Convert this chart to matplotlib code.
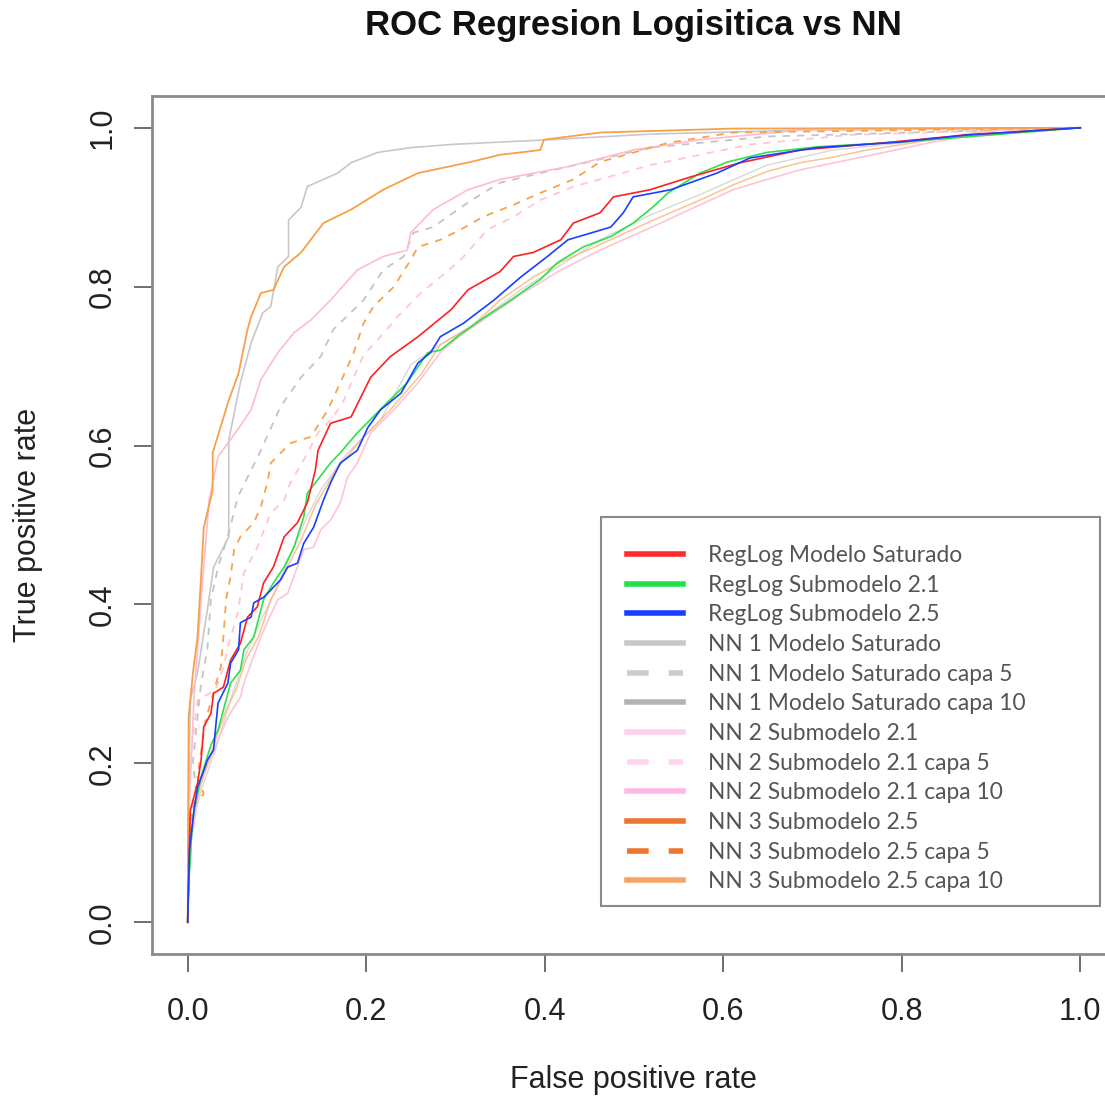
import matplotlib
matplotlib.use('Agg')
import matplotlib.pyplot as plt
from matplotlib.lines import Line2D
from matplotlib.patches import Rectangle

# ROC points (fpr, tpr)
red_x = [0, 0.002, 0.003, 0.011, 0.015, 0.018, 0.026, 0.029, 0.040, 0.048, 0.059, 0.067, 0.078, 0.085, 0.096, 0.108, 0.123, 0.134, 0.143, 0.146, 0.160, 0.183, 0.194, 0.205, 0.227, 0.258, 0.295, 0.314, 0.350, 0.365, 0.387, 0.418, 0.432, 0.462, 0.477, 0.518, 0.563, 0.619, 0.686, 0.779, 0.873, 1]
red_y = [0, 0.103, 0.141, 0.175, 0.204, 0.246, 0.263, 0.288, 0.296, 0.330, 0.351, 0.384, 0.397, 0.427, 0.447, 0.485, 0.503, 0.528, 0.569, 0.594, 0.628, 0.636, 0.661, 0.686, 0.712, 0.737, 0.771, 0.796, 0.819, 0.838, 0.843, 0.859, 0.880, 0.893, 0.913, 0.922, 0.938, 0.956, 0.972, 0.981, 0.991, 1]

green_x = [0, 0.001, 0.003, 0.004, 0.007, 0.011, 0.015, 0.026, 0.034, 0.040, 0.048, 0.059, 0.063, 0.074, 0.085, 0.096, 0.108, 0.119, 0.130, 0.134, 0.160, 0.171, 0.190, 0.219, 0.246, 0.258, 0.269, 0.283, 0.302, 0.328, 0.358, 0.395, 0.414, 0.443, 0.474, 0.499, 0.522, 0.538, 0.574, 0.605, 0.649, 0.705, 0.798, 1]
green_y = [0, 0.053, 0.078, 0.103, 0.141, 0.162, 0.183, 0.223, 0.242, 0.267, 0.301, 0.317, 0.343, 0.359, 0.406, 0.427, 0.447, 0.472, 0.510, 0.540, 0.578, 0.591, 0.616, 0.649, 0.679, 0.699, 0.717, 0.720, 0.737, 0.758, 0.780, 0.809, 0.830, 0.850, 0.863, 0.880, 0.901, 0.918, 0.943, 0.957, 0.969, 0.976, 0.982, 1]

blue_x = [0, 0.002, 0.007, 0.011, 0.018, 0.022, 0.029, 0.031, 0.034, 0.045, 0.048, 0.057, 0.059, 0.071, 0.074, 0.085, 0.093, 0.104, 0.112, 0.123, 0.130, 0.141, 0.152, 0.160, 0.171, 0.190, 0.202, 0.216, 0.239, 0.258, 0.272, 0.283, 0.309, 0.343, 0.373, 0.403, 0.426, 0.474, 0.488, 0.499, 0.541, 0.593, 0.630, 0.705, 0.798, 0.873, 1]
blue_y = [0, 0.091, 0.141, 0.170, 0.191, 0.204, 0.217, 0.242, 0.276, 0.301, 0.326, 0.343, 0.377, 0.384, 0.402, 0.409, 0.418, 0.431, 0.447, 0.452, 0.477, 0.497, 0.531, 0.553, 0.578, 0.594, 0.623, 0.645, 0.666, 0.704, 0.717, 0.737, 0.754, 0.783, 0.812, 0.838, 0.859, 0.875, 0.893, 0.913, 0.922, 0.943, 0.962, 0.975, 0.982, 0.991, 1]

nn1_x = [0, 0.001, 0.003, 0.011, 0.022, 0.029, 0.046, 0.046, 0.046, 0.059, 0.071, 0.084, 0.093, 0.101, 0.113, 0.113, 0.121, 0.127, 0.134, 0.152, 0.168, 0.183, 0.213, 0.250, 0.295, 0.350, 0.406, 0.518, 0.686, 1]
nn1_y = [0, 0.154, 0.280, 0.314, 0.393, 0.447, 0.485, 0.544, 0.607, 0.679, 0.729, 0.767, 0.775, 0.825, 0.838, 0.884, 0.893, 0.900, 0.926, 0.935, 0.943, 0.956, 0.969, 0.975, 0.979, 0.982, 0.985, 0.992, 0.997, 1]

nn1_c5_x = [0, 0.002, 0.009, 0.006, 0.015, 0.022, 0.026, 0.034, 0.046, 0.056, 0.082, 0.104, 0.127, 0.149, 0.163, 0.197, 0.219, 0.242, 0.253, 0.275, 0.314, 0.350, 0.426, 0.518, 0.649, 1]
nn1_c5_y = [0, 0.116, 0.166, 0.204, 0.301, 0.343, 0.406, 0.447, 0.490, 0.535, 0.594, 0.649, 0.686, 0.712, 0.746, 0.783, 0.821, 0.838, 0.868, 0.875, 0.906, 0.931, 0.951, 0.975, 0.989, 1]

nn1_c10_x = [0, 0.003, 0.015, 0.031, 0.048, 0.065, 0.082, 0.099, 0.115, 0.132, 0.149, 0.177, 0.216, 0.250, 0.283, 0.328, 0.373, 0.418, 0.462, 0.518, 0.574, 0.649, 0.723, 0.835, 1]
nn1_c10_y = [0, 0.116, 0.166, 0.217, 0.280, 0.336, 0.380, 0.418, 0.462, 0.506, 0.544, 0.588, 0.632, 0.702, 0.727, 0.758, 0.796, 0.827, 0.859, 0.890, 0.916, 0.953, 0.972, 0.985, 1]

nn2_x = [0, 0.002, 0.007, 0.015, 0.024, 0.034, 0.056, 0.071, 0.082, 0.101, 0.119, 0.138, 0.160, 0.190, 0.219, 0.246, 0.250, 0.275, 0.314, 0.350, 0.426, 0.499, 0.574, 0.686, 1]
nn2_y = [0, 0.154, 0.280, 0.406, 0.531, 0.586, 0.620, 0.645, 0.683, 0.717, 0.742, 0.758, 0.783, 0.821, 0.838, 0.846, 0.868, 0.897, 0.922, 0.935, 0.951, 0.972, 0.985, 0.997, 1]

nn2_c5_x = [0, 0.001, 0.003, 0.011, 0.031, 0.040, 0.045, 0.056, 0.063, 0.078, 0.093, 0.108, 0.115, 0.130, 0.146, 0.163, 0.175, 0.186, 0.197, 0.216, 0.235, 0.261, 0.283, 0.306, 0.336, 0.365, 0.395, 0.432, 0.462, 0.518, 0.630, 0.742, 1]
nn2_c5_y = [0, 0.103, 0.204, 0.280, 0.292, 0.321, 0.346, 0.389, 0.440, 0.472, 0.515, 0.531, 0.553, 0.582, 0.616, 0.636, 0.657, 0.686, 0.714, 0.737, 0.762, 0.792, 0.812, 0.834, 0.872, 0.888, 0.909, 0.926, 0.935, 0.953, 0.979, 0.991, 1]

nn2_c10_x = [0, 0.002, 0.015, 0.045, 0.052, 0.059, 0.063, 0.071, 0.082, 0.090, 0.101, 0.112, 0.130, 0.141, 0.149, 0.160, 0.171, 0.179, 0.190, 0.205, 0.231, 0.258, 0.283, 0.306, 0.339, 0.373, 0.418, 0.462, 0.518, 0.574, 0.611, 0.649, 0.686, 0.742, 0.835, 0.910, 1]
nn2_c10_y = [0, 0.091, 0.179, 0.258, 0.271, 0.283, 0.301, 0.326, 0.359, 0.380, 0.406, 0.414, 0.469, 0.472, 0.494, 0.506, 0.528, 0.560, 0.578, 0.616, 0.645, 0.679, 0.717, 0.739, 0.764, 0.790, 0.821, 0.846, 0.874, 0.903, 0.922, 0.935, 0.947, 0.960, 0.982, 0.997, 1]

nn3_x = [0, 0.001, 0.006, 0.011, 0.015, 0.018, 0.028, 0.028, 0.046, 0.057, 0.067, 0.071, 0.082, 0.096, 0.108, 0.127, 0.152, 0.183, 0.219, 0.258, 0.317, 0.350, 0.395, 0.399, 0.462, 0.611, 1]
nn3_y = [0, 0.258, 0.315, 0.359, 0.435, 0.497, 0.544, 0.591, 0.657, 0.691, 0.746, 0.762, 0.792, 0.796, 0.825, 0.843, 0.880, 0.897, 0.922, 0.943, 0.957, 0.966, 0.972, 0.985, 0.994, 0.999, 1]

nn3_c5_x = [0, 0.002, 0.003, 0.018, 0.011, 0.020, 0.037, 0.040, 0.043, 0.048, 0.052, 0.059, 0.074, 0.082, 0.090, 0.093, 0.115, 0.138, 0.157, 0.171, 0.186, 0.197, 0.208, 0.231, 0.250, 0.258, 0.283, 0.306, 0.331, 0.365, 0.395, 0.432, 0.462, 0.538, 0.611, 1]
nn3_c5_y = [0, 0.091, 0.141, 0.162, 0.183, 0.254, 0.321, 0.359, 0.406, 0.435, 0.469, 0.485, 0.503, 0.523, 0.557, 0.578, 0.603, 0.611, 0.645, 0.679, 0.717, 0.754, 0.775, 0.800, 0.834, 0.850, 0.859, 0.872, 0.888, 0.903, 0.918, 0.935, 0.957, 0.981, 0.994, 1]

nn3_c10_x = [0, 0.001, 0.009, 0.020, 0.031, 0.043, 0.054, 0.065, 0.080, 0.093, 0.110, 0.127, 0.143, 0.166, 0.194, 0.227, 0.261, 0.283, 0.317, 0.350, 0.387, 0.418, 0.462, 0.518, 0.574, 0.611, 0.649, 0.686, 0.723, 0.761, 0.835, 0.910, 1]
nn3_c10_y = [0, 0.091, 0.154, 0.191, 0.229, 0.267, 0.292, 0.330, 0.361, 0.406, 0.443, 0.481, 0.525, 0.569, 0.607, 0.645, 0.689, 0.727, 0.749, 0.783, 0.812, 0.831, 0.853, 0.882, 0.909, 0.928, 0.945, 0.956, 0.963, 0.972, 0.985, 0.999, 1]

labels = ['RegLog Modelo Saturado', 'RegLog Submodelo 2.1', 'RegLog Submodelo 2.5',
          'NN 1 Modelo Saturado', 'NN 1 Modelo Saturado capa 5', 'NN 1 Modelo Saturado capa 10',
          'NN 2 Submodelo 2.1', 'NN 2 Submodelo 2.1 capa 5', 'NN 2 Submodelo 2.1 capa 10',
          'NN 3 Submodelo 2.5', 'NN 3 Submodelo 2.5 capa 5', 'NN 3 Submodelo 2.5 capa 10']
leg_colors = ['#ff2a2a', '#22e04a', '#1a3cff', '#c8c8c8', '#cccccc', '#b4b4b4',
              '#ffd0ee', '#ffd4f0', '#ffb8e6', '#ec7630', '#ec7630', '#f6a466']
leg_dash = (0, (3.9, 3.6))
leg_styles = ['-', '-', '-', '-', leg_dash, '-', '-', leg_dash, '-', '-', leg_dash, '-']

W, H = 1105, 1099
fig = plt.figure(figsize=(W / 100, H / 100), dpi=100)
tick_font = ['Liberation Sans Narrow', 'Liberation Sans']

ax = fig.add_axes([152 / W, 1 - 954 / H, (1116 - 152) / W, (954 - 96) / H])
dash = (0, (4, 4))
ax.plot(nn1_x, nn1_y, color='#c8c8c8', lw=1.2)
ax.plot(nn1_c5_x, nn1_c5_y, color='#c4c4c4', lw=1.3, linestyle=dash)
ax.plot(nn1_c10_x, nn1_c10_y, color='#c8c8c8', lw=1.0, alpha=0.7)
ax.plot(nn2_c10_x, nn2_c10_y, color='#ffc4d4', lw=1.2)
ax.plot(nn2_x, nn2_y, color='#ffbccb', lw=1.2)
ax.plot(nn2_c5_x, nn2_c5_y, color='#ffc6d2', lw=1.3, linestyle=dash)
ax.plot(nn3_c10_x, nn3_c10_y, color='#f8b47a', lw=1.1, alpha=0.8)
ax.plot(nn3_c5_x, nn3_c5_y, color='#f7a24c', lw=1.3, linestyle=dash)
ax.plot(nn3_x, nn3_y, color='#f7a04a', lw=1.3)
ax.plot(green_x, green_y, color='#2ee04a', lw=1.2)
ax.plot(red_x, red_y, color='#ff2020', lw=1.2)
ax.plot(blue_x, blue_y, color='#1a40ff', lw=1.2)

ax.set_xlim(-0.04, 1.04)
ax.set_ylim(-0.04, 1.04)
ticks = [0.0, 0.2, 0.4, 0.6, 0.8, 1.0]
ax.set_xticks(ticks)
ax.set_yticks(ticks)
ax.set_xticklabels(['%.1f' % t for t in ticks], family=tick_font, fontsize=22, color='#222222')
ax.set_yticklabels(['%.1f' % t for t in ticks], family=tick_font, fontsize=22, color='#222222',
                   rotation=90, va='center')
ax.tick_params(axis='both', direction='out', length=13, width=1.2, color='#555555')
ax.tick_params(axis='x', pad=18)
ax.tick_params(axis='y', pad=12)
for s in ax.spines.values():
    s.set_color('#8a8a8a')
    s.set_linewidth(2.0)

fig.text(633 / W, 1 - 25 / H, 'ROC Regresion Logisitica vs NN', ha='center', va='center',
         family=tick_font, fontsize=25, fontweight='bold', color='#111111')
fig.text(633 / W, 1 - 1080 / H, 'False positive rate', ha='center', va='center',
         family=tick_font, fontsize=22, color='#222222')
fig.text(28 / W, 1 - 525 / H, 'True positive rate', ha='center', va='center', rotation=90,
         family=tick_font, fontsize=22, color='#222222')

# legend box
fig.patches.append(Rectangle((601 / W, 1 - 906 / H), 499 / W, 389 / H, transform=fig.transFigure,
                             facecolor='white', edgecolor='#8a8a8a', lw=1.5, zorder=5))
handles = [Line2D([], [], color=c, lw=4, linestyle=s) for c, s in zip(leg_colors, leg_styles)]
leg = fig.legend(handles, labels, loc='upper left', bbox_to_anchor=(627 / W, 1 - 545 / H),
                 frameon=False, borderpad=0, borderaxespad=0, handlelength=2.45,
                 handletextpad=1.1, labelspacing=0.38,
                 prop={'family': ['Lato', 'DejaVu Sans'], 'size': 16.4})
leg.set_zorder(6)
for t in leg.get_texts():
    t.set_color('#555555')

fig.savefig('out.png', dpi=100)
